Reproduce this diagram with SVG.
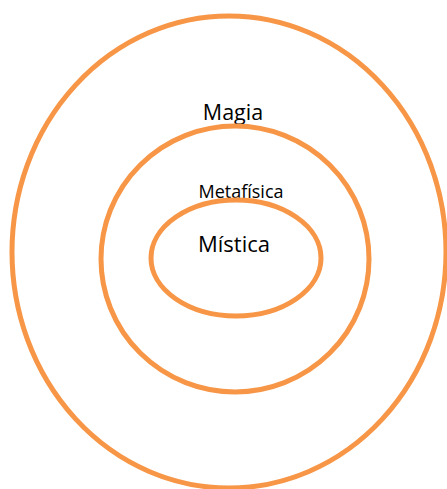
<svg xmlns="http://www.w3.org/2000/svg" width="447" height="489" viewBox="0 0 447 489">
<style>
.ring{fill:none;stroke:#F79646;stroke-width:5}
.lbl{font-family:"Open Sans","Liberation Sans",sans-serif;fill:#000;text-anchor:middle}
</style>
<rect width="447" height="489" fill="#fff"/>
<g id="magia">
<ellipse class="ring" cx="229" cy="252" rx="217" ry="236"/>
<text class="lbl" x="233" y="120" font-size="21.5">Magia</text>
</g>
<g id="metafisica">
<ellipse class="ring" cx="235" cy="259" rx="134" ry="133"/>
<text class="lbl" x="241" y="198" font-size="18">Metafísica</text>
</g>
<g id="mistica">
<ellipse class="ring" cx="236" cy="258" rx="85" ry="58"/>
<text class="lbl" x="234" y="252" font-size="22">Mística</text>
</g>
</svg>
